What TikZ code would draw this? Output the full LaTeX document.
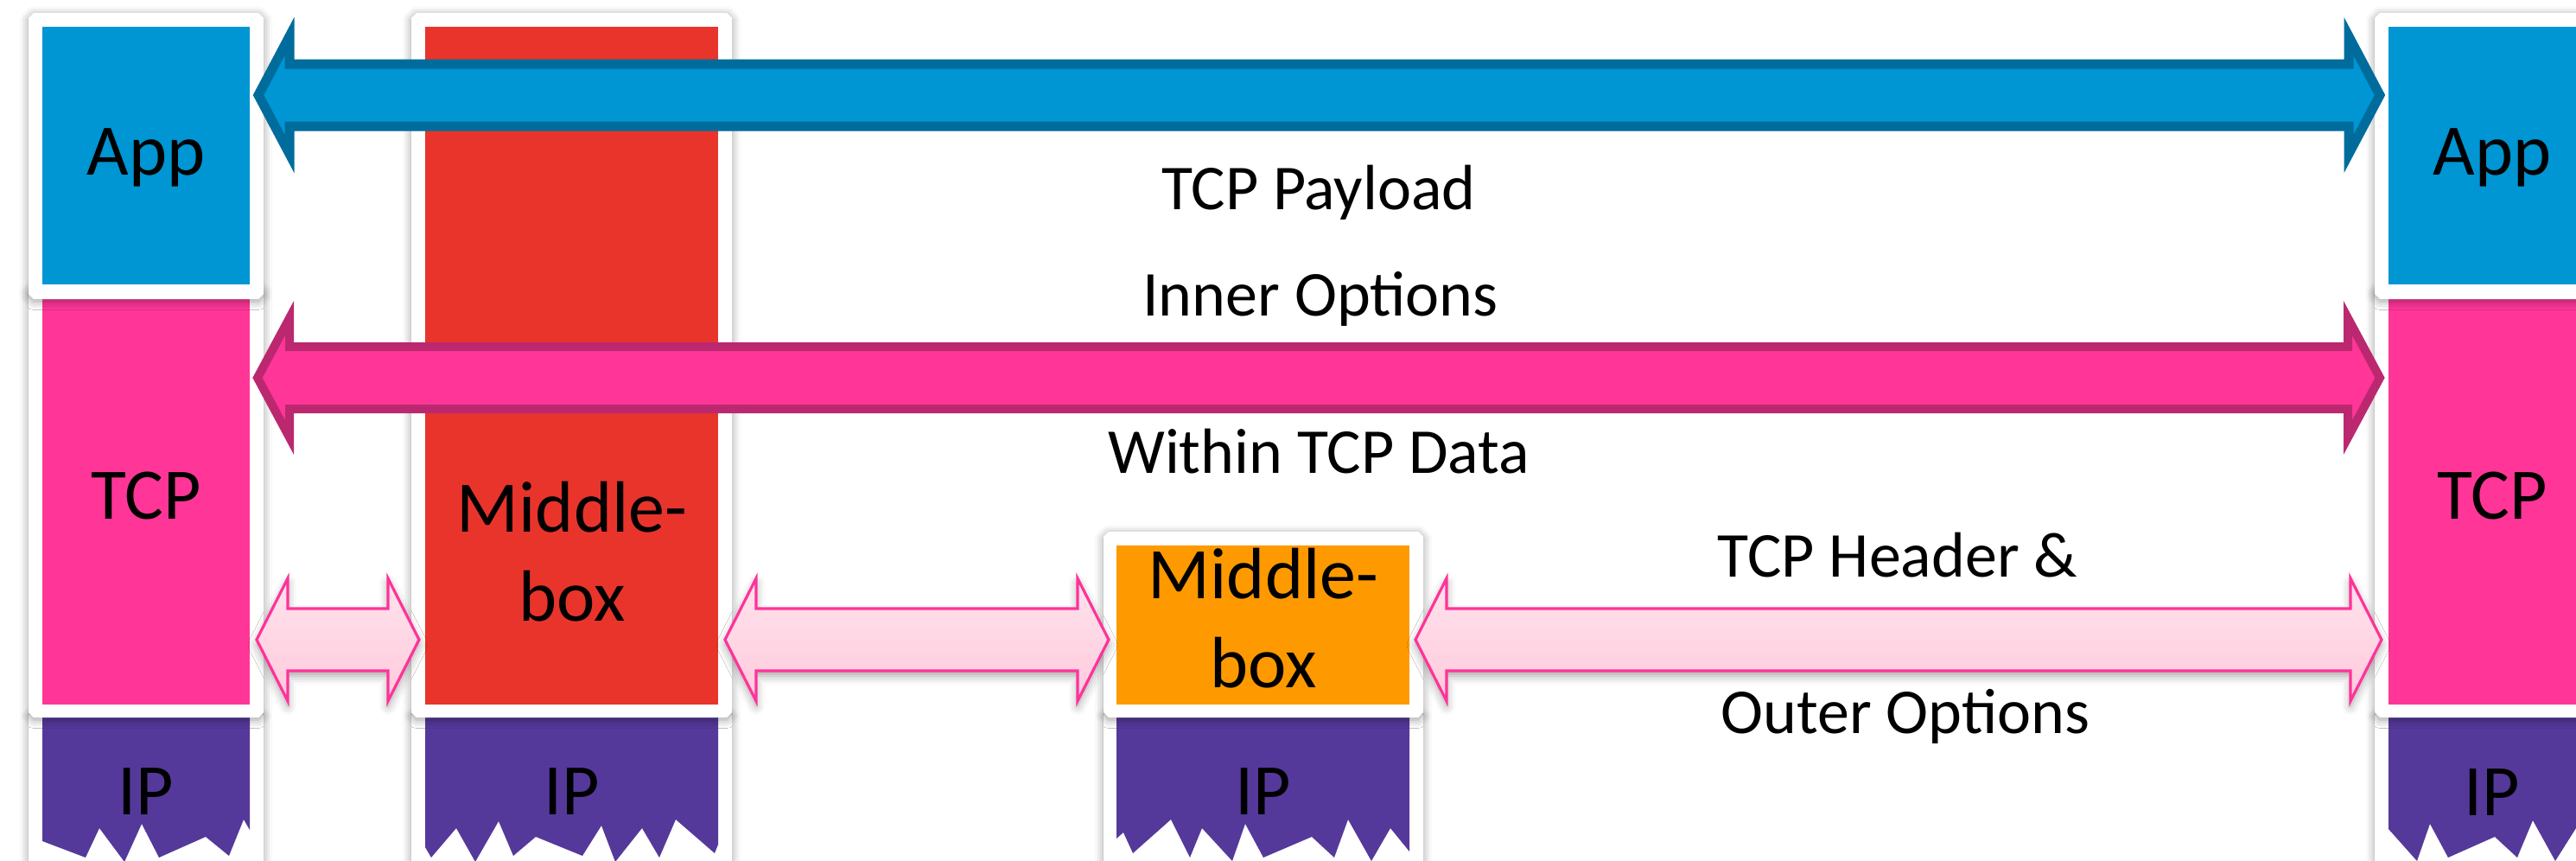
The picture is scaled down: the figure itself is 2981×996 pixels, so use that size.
\documentclass[tikz,border=0pt]{standalone}
\usepackage{fontspec}
\setmainfont{Carlito}
\usetikzlibrary{calc,shadows.blur}

\definecolor{appblue}{RGB}{0,149,211}
\definecolor{appblueline}{RGB}{0,108,156}
\definecolor{tcppink}{RGB}{255,54,152}
\definecolor{tcppinkline}{RGB}{187,40,112}
\definecolor{mbred}{RGB}{233,52,44}
\definecolor{mborange}{RGB}{254,153,0}
\definecolor{ippurple}{RGB}{85,57,154}
\definecolor{hoptop}{RGB}{255,226,236}
\definecolor{hopbottom}{RGB}{255,202,221}
\definecolor{hopline}{RGB}{255,51,153}

\tikzset{
  card/.style={fill=white, blur shadow={shadow xshift=0pt, shadow yshift=-0.6pt,
      shadow blur radius=2.5pt, shadow opacity=40}},
  layer/.style={draw=none, inner sep=0pt, outer sep=0pt, anchor=north west, rectangle},
  big/.style={font=\fontsize{21}{25}\selectfont, inner sep=0pt, anchor=base},
  lbl/.style={font=\fontsize{18.5}{22}\selectfont, inner sep=0pt, anchor=base},
  bluearrow/.style={fill=appblue, draw=appblueline, line width=2.75pt, line join=miter},
  pinkarrow/.style={fill=tcppink, draw=tcppinkline, line width=2.5pt, line join=miter},
  hoparrow/.style={top color=hoptop, bottom color=hopbottom, draw=hopline,
      line width=0.8pt, line join=miter,
      blur shadow={shadow xshift=0pt, shadow yshift=-1.5pt, shadow blur radius=2.5pt, shadow opacity=35}},
}

% white card with cut corners: x1 y1 x2 y2 (pixel units)
\newcommand{\cardframe}[4]{%
  \path[card] (#1+6,#2) -- (#3-6,#2) -- (#3,#2+6) -- (#3,#4-6) -- (#3-6,#4)
    -- (#1+6,#4) -- (#1,#4-6) -- (#1,#2+6) -- cycle;}

% coloured layer: name, colour, x1 y1 x2 y2
\newcommand{\layerbox}[6]{%
  \node[layer, fill=#2, minimum width={(#5-#3)*0.25pt}, minimum height={(#6-#4)*0.25pt}]
    (#1) at (#3,#4) {};}

% double block arrow: style, left tip, right tip, head length, shaft half, head half
\newcommand{\blockarrow}[6]{%
  \path[#1] (#2) -- ($(#2)+(#4,-#6)$) -- ($(#2)+(#4,-#5)$) -- ($(#3)+(-#4,-#5)$)
    -- ($(#3)+(-#4,-#6)$) -- (#3) -- ($(#3)+(-#4,#6)$) -- ($(#3)+(-#4,#5)$)
    -- ($(#2)+(#4,#5)$) -- ($(#2)+(#4,#6)$) -- cycle;}

\begin{document}
\begin{tikzpicture}[x=0.25pt, y=-0.25pt]
\useasboundingbox (0,0) rectangle (2981,996);

% ---------- IP layers (torn at the bottom) ----------
\cardframe{33}{822}{305}{1010}
\path[fill=ippurple] (49,825) -- (289,825) -- (289,960) -- (282,948) -- (265,990)
  -- (238,968) -- (184,992) -- (164,953) -- (144,997) -- (115,958) -- (99,992)
  -- (49,973) -- cycle;
\cardframe{476}{822}{847}{1010}
\path[fill=ippurple] (492,825) -- (831,825) -- (831,977) -- (827,987) -- (782,948)
  -- (763,992) -- (743,958) -- (712,997) -- (696,955) -- (674,990) -- (620,968)
  -- (594,990) -- (577,950) -- (550,997) -- (528,958) -- (499,992) -- (492,980) -- cycle;
\cardframe{1277}{822}{1647}{1010}
\path[fill=ippurple] (1292,825) -- (1631,825) -- (1631,985) -- (1609,958) -- (1587,996)
  -- (1560,948) -- (1544,992) -- (1518,968) -- (1462,992) -- (1441,953) -- (1426,996)
  -- (1391,958) -- (1377,992) -- (1355,948) -- (1311,987) -- (1300,963) -- (1292,970) -- cycle;
\cardframe{2748}{822}{3020}{1010}
\path[fill=ippurple] (2764,825) -- (2990,825) -- (2990,960) -- (2981,958) -- (2957,996)
  -- (2931,949) -- (2913,992) -- (2887,968) -- (2833,992) -- (2812,953) -- (2797,996)
  -- (2764,959) -- cycle;

% ---------- TCP layers and middleboxes ----------
\cardframe{33}{330}{305}{830}
\layerbox{tcpL}{tcppink}{49}{340}{289}{815}
\cardframe{2748}{330}{3020}{830}
\layerbox{tcpR}{tcppink}{2764}{340}{3004}{815}
\cardframe{476}{15}{847}{830}
\layerbox{mbA}{mbred}{492}{31}{831}{815}
\cardframe{1277}{615}{1647}{830}
\layerbox{mbB}{mborange}{1292}{631}{1631}{815}

% ---------- application layers ----------
\cardframe{33}{15}{305}{346}
\layerbox{appL}{appblue}{49}{31}{289}{329}
\cardframe{2748}{15}{3020}{346}
\layerbox{appR}{appblue}{2764}{31}{3004}{329}

% ---------- arrow end points ----------
\coordinate (yPay) at (0,110);
\coordinate (yOpt) at (0,437);
\coordinate (yHop) at (0,740);
\coordinate (payL) at ($(appL.east |- yPay)+(10,0)$);
\coordinate (payR) at ($(appR.west |- yPay)+(-10,0)$);
\coordinate (optL) at ($(tcpL.east |- yOpt)+(9,0)$);
\coordinate (optR) at ($(tcpR.west |- yOpt)+(-10,0)$);
\coordinate (hopAL) at ($(tcpL.east |- yHop)+(8,0)$);
\coordinate (hopAR) at ($(mbA.west |- yHop)+(-7,0)$);
\coordinate (hopBL) at ($(mbA.east |- yHop)+(8,0)$);
\coordinate (hopBR) at ($(mbB.west |- yHop)+(-9,0)$);
\coordinate (hopCL) at ($(mbB.east |- yHop)+(7,0)$);
\coordinate (hopCR) at ($(tcpR.west |- yHop)+(-8,0)$);

% ---------- arrows ----------
\blockarrow{bluearrow}{payL}{payR}{36}{36}{68}
\blockarrow{pinkarrow}{optL}{optR}{37}{36}{69}
\blockarrow{hoparrow}{hopAL}{hopAR}{36}{36}{71}
\blockarrow{hoparrow}{hopBL}{hopBR}{36}{36}{71}
\blockarrow{hoparrow}{hopCL}{hopCR}{36}{36}{71}

% ---------- layer texts ----------
\node[big] (tAppL) at (169,202) {App};
\node[big] (tTcpL) at (169,600) {TCP};
\node[big] (tIpL)  at (169,942) {IP};
\node[big] (tMbA1) at (662,615) {Middle-};
\node[big] (tMbA2) at (662,718) {box};
\node[big] (tIpA)  at (662,942) {IP};
\node[big] (tMbB1) at (1462,692) {Middle-};
\node[big] (tMbB2) at (1462,795) {box};
\node[big] (tIpB)  at (1462,942) {IP};
\node[big] (tAppR) at (2884,202) {App};
\node[big] (tTcpR) at (2884,600) {TCP};
\node[big] (tIpR)  at (2884,943) {IP};

% ---------- arrow labels ----------
\node[lbl] (lPay)   at (1526,242) {TCP Payload};
\node[lbl] (lInner) at (1528,365) {Inner Options};
\node[lbl] (lData)  at (1526,547) {Within TCP Data};
\node[lbl] (lHdr)   at (2196,667) {TCP Header \&};
\node[lbl] (lOuter) at (2205,848) {Outer Options};
\end{tikzpicture}
\end{document}
